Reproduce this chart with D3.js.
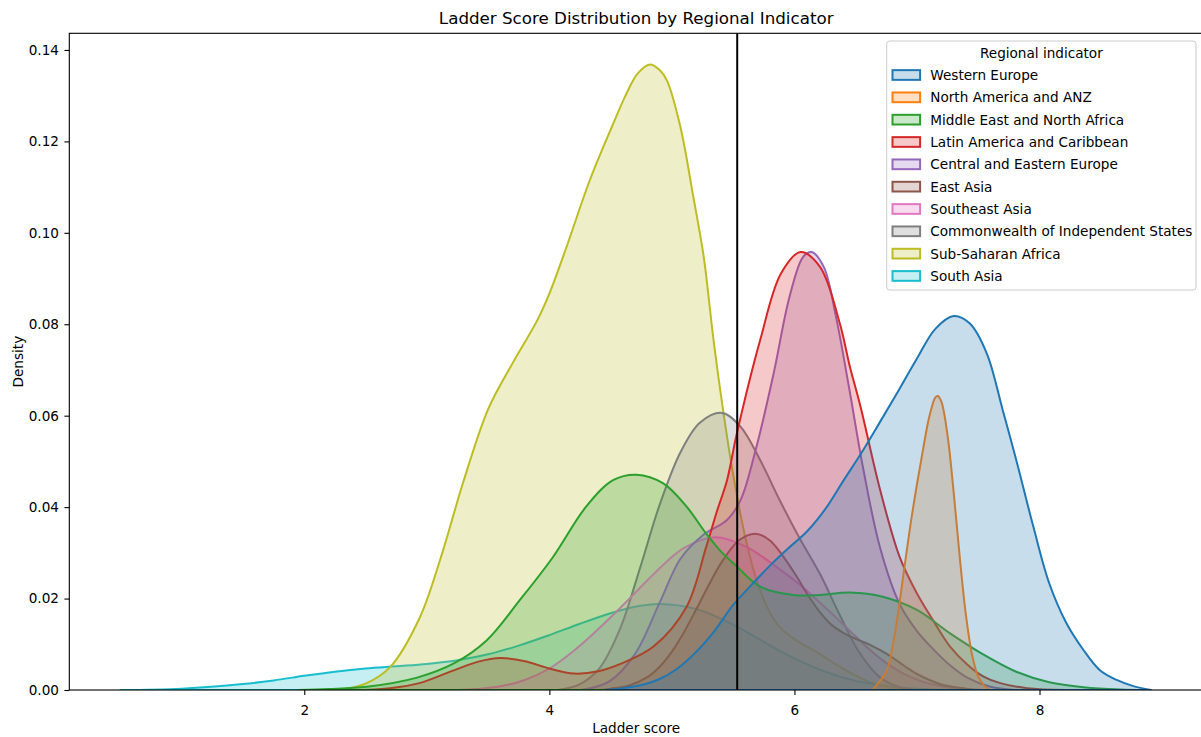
<!DOCTYPE html>
<html>
<head>
<meta charset="utf-8">
<script src="https://cdn.jsdelivr.net/npm/d3@7"></script>
<style>
  body { margin: 0; background: #ffffff; }
  svg text { font-family: "DejaVu Sans", sans-serif; fill: #000; }
</style>
</head>
<body>
<svg id="chart" width="1201" height="737"></svg>
<script>
// Region names, in legend order
const regions = [
  "Western Europe",
  "North America and ANZ",
  "Middle East and North Africa",
  "Latin America and Caribbean",
  "Central and Eastern Europe",
  "East Asia",
  "Southeast Asia",
  "Commonwealth of Independent States",
  "Sub-Saharan Africa",
  "South Asia"
];

// Density curves per region: [ladder score, density]
const westernEurope = [[4.46,0],[4.6,0.0004],[4.77,0.0012],[4.9,0.0024],[5.04,0.0046],[5.2,0.0084],[5.35,0.013],[5.5,0.0186],[5.65,0.023],[5.8,0.0272],[5.95,0.031],[6.1,0.0346],[6.25,0.0395],[6.4,0.0458],[6.55,0.052],[6.7,0.0587],[6.85,0.0655],[7.0,0.0725],[7.15,0.079],[7.3,0.0818],[7.43,0.0802],[7.57,0.0736],[7.7,0.0612],[7.81,0.0503],[7.95,0.0357],[8.08,0.0233],[8.22,0.0146],[8.36,0.0087],[8.49,0.0044],[8.63,0.0022],[8.76,0.0009],[8.91,0]];
const northAmericaAnz = [[6.637,0],[6.65,0.0004],[6.75,0.0041],[6.8,0.0094],[6.85,0.0176],[6.9,0.0273],[6.95,0.0367],[7.0,0.045],[7.05,0.0527],[7.1,0.0597],[7.15,0.064],[7.17,0.0643],[7.2,0.063],[7.25,0.0556],[7.3,0.0431],[7.35,0.0288],[7.4,0.0163],[7.45,0.0076],[7.5,0.0029],[7.55,0.0009],[7.59,0]];
const middleEastNorthAfrica = [[1.96,0],[2.2,0.0002],[2.51,0.0007],[2.92,0.0027],[3.22,0.0058],[3.49,0.0109],[3.76,0.0197],[4.03,0.0291],[4.3,0.0401],[4.52,0.0459],[4.71,0.0471],[4.93,0.0452],[5.12,0.0401],[5.28,0.0342],[5.39,0.0306],[5.53,0.027],[5.72,0.0226],[5.99,0.0208],[6.21,0.0208],[6.45,0.0213],[6.72,0.0204],[7.0,0.0175],[7.27,0.0124],[7.54,0.0078],[7.81,0.004],[8.08,0.0017],[8.36,0.0006],[8.66,0.0001],[8.86,0]];
const latinAmericaCaribbean = [[2.47,0],[2.7,0.0004],[2.94,0.0015],[3.22,0.0043],[3.42,0.0062],[3.6,0.007],[3.8,0.0063],[4.0,0.0047],[4.2,0.0036],[4.4,0.0041],[4.58,0.0057],[4.85,0.0095],[5.12,0.0182],[5.28,0.0313],[5.37,0.0393],[5.45,0.0459],[5.53,0.0561],[5.72,0.0765],[5.89,0.0911],[6.05,0.0958],[6.21,0.0925],[6.37,0.0802],[6.45,0.071],[6.54,0.0619],[6.7,0.0437],[6.86,0.029],[7.0,0.0211],[7.13,0.0153],[7.27,0.0095],[7.41,0.0056],[7.54,0.003],[7.68,0.0015],[7.9,0.0004],[8.21,0]];
const centralEasternEurope = [[4.26,0],[4.49,0.0019],[4.7,0.0079],[4.9,0.0191],[5.07,0.0287],[5.26,0.034],[5.45,0.0372],[5.56,0.0415],[5.69,0.0532],[5.83,0.0692],[5.96,0.086],[6.07,0.0947],[6.14,0.0958],[6.24,0.0925],[6.34,0.0815],[6.45,0.0655],[6.56,0.0486],[6.7,0.031],[6.86,0.0187],[7.0,0.0129],[7.13,0.009],[7.27,0.0054],[7.41,0.0027],[7.6,0.0007],[7.8,0]];
const eastAsia = [[4.42,0],[4.5,0.0003],[4.65,0.001],[4.8,0.0028],[4.9,0.0051],[5.0,0.0084],[5.1,0.0127],[5.2,0.0177],[5.3,0.0229],[5.4,0.0277],[5.55,0.0328],[5.68,0.0342],[5.8,0.0327],[6.0,0.0256],[6.1,0.0212],[6.2,0.0173],[6.3,0.0143],[6.4,0.0125],[6.5,0.0112],[6.6,0.0101],[6.7,0.0087],[6.8,0.0071],[6.9,0.0052],[7.0,0.0035],[7.2,0.0012],[7.4,0.0003],[7.51,0]];
const southeastAsia = [[3.26,0],[3.4,0.0002],[3.6,0.0008],[3.8,0.0022],[4.0,0.0047],[4.2,0.0086],[4.35,0.0121],[4.5,0.0159],[4.65,0.0199],[4.8,0.024],[4.95,0.0279],[5.1,0.0311],[5.35,0.0334],[5.6,0.0314],[5.9,0.026],[6.05,0.0229],[6.2,0.0193],[6.35,0.0156],[6.5,0.0117],[6.65,0.008],[6.8,0.005],[6.95,0.0028],[7.1,0.0014],[7.3,0.0004],[7.55,0]];
const commonwealthIndependentStates = [[4.07,0],[4.25,0.0013],[4.41,0.0048],[4.58,0.0136],[4.74,0.0267],[4.9,0.0405],[5.07,0.052],[5.23,0.0585],[5.41,0.0606],[5.56,0.0576],[5.72,0.0503],[5.88,0.0415],[6.04,0.0333],[6.21,0.0253],[6.37,0.0164],[6.53,0.0082],[6.7,0.0027],[6.85,0.0007],[6.98,0]];
const subSaharanAfrica = [[2.27,0],[2.5,0.0014],[2.7,0.005],[2.94,0.0157],[3.11,0.0286],[3.3,0.0457],[3.5,0.0614],[3.7,0.0715],[3.9,0.0808],[4.0,0.0867],[4.14,0.0969],[4.33,0.1115],[4.52,0.1238],[4.63,0.1305],[4.72,0.1348],[4.82,0.1368],[4.9,0.1356],[4.96,0.1333],[5.07,0.1231],[5.17,0.1086],[5.26,0.0947],[5.34,0.0765],[5.42,0.0608],[5.5,0.0471],[5.6,0.0333],[5.7,0.0233],[5.8,0.0169],[5.9,0.0132],[6.05,0.0103],[6.2,0.008],[6.4,0.0046],[6.6,0.0019],[6.8,0.0005],[6.93,0]];
const southAsia = [[0.5,0],[1.0,0.0003],[1.5,0.0013],[1.75,0.0021],[2.0,0.0031],[2.25,0.004],[2.5,0.0047],[2.75,0.0052],[3.0,0.0057],[3.25,0.0065],[3.5,0.0078],[3.75,0.0097],[4.0,0.012],[4.25,0.0145],[4.5,0.0168],[4.7,0.0182],[4.9,0.0188],[5.2,0.0177],[5.5,0.0143],[5.75,0.0105],[6.0,0.0069],[6.25,0.004],[6.5,0.002],[6.75,0.0009],[7.0,0.0003],[7.29,0]];

const curves = [westernEurope, northAmericaAnz, middleEastNorthAfrica, latinAmericaCaribbean,
  centralEasternEurope, eastAsia, southeastAsia, commonwealthIndependentStates, subSaharanAfrica, southAsia];

// Mean ladder score across all countries (vertical reference line)
const meanScore = 5.533;

// Axis ticks
const xTicks = [2, 4, 6, 8];
const yTicks = [0.00, 0.02, 0.04, 0.06, 0.08, 0.10, 0.12, 0.14];

// Styling
const palette = ["#1f77b4","#ff7f0e","#2ca02c","#d62728","#9467bd","#8c564b","#e377c2","#7f7f7f","#bcbd22","#17becf"];
const fillAlpha = 0.25;
const fontSize = 13.6;

const svg = d3.select("#chart");
const plot = { left: 69.3, right: 1203.1, top: 33.3, bottom: 690 };

const x = d3.scaleLinear().domain([0.0824, 9.335]).range([plot.left, plot.right]);
const y = d3.scaleLinear().domain([0, 0.14364]).range([plot.bottom, plot.top]);

svg.append("defs").append("clipPath").attr("id", "plotClip")
  .append("rect")
  .attr("x", plot.left).attr("y", plot.top)
  .attr("width", plot.right - plot.left).attr("height", plot.bottom - plot.top);

const area = d3.area()
  .x(d => x(d[0]))
  .y0(y(0))
  .y1(d => y(d[1]))
  .curve(d3.curveCatmullRom.alpha(0.5));

// Filled densities: last region drawn first so Western Europe ends up on top
const layers = svg.append("g").attr("clip-path", "url(#plotClip)");
for (let i = regions.length - 1; i >= 0; i--) {
  const g = layers.append("g");
  g.append("path")
    .datum(curves[i])
    .attr("d", area)
    .attr("fill", palette[i])
    .attr("fill-opacity", fillAlpha)
    .attr("stroke", "none");
  g.append("path")
    .datum(curves[i])
    .attr("d", area)
    .attr("fill", "none")
    .attr("stroke", palette[i])
    .attr("stroke-width", 2)
    .attr("stroke-linejoin", "round");
}

// Mean line
layers.append("line")
  .attr("x1", x(meanScore)).attr("x2", x(meanScore))
  .attr("y1", plot.top).attr("y2", plot.bottom)
  .attr("stroke", "#000").attr("stroke-width", 2);

// Frame
svg.append("rect")
  .attr("x", plot.left).attr("y", plot.top)
  .attr("width", plot.right - plot.left).attr("height", plot.bottom - plot.top)
  .attr("fill", "none").attr("stroke", "#000").attr("stroke-width", 1.1);

// Axes
const xAxis = svg.append("g")
  .attr("transform", `translate(0,${plot.bottom})`)
  .call(d3.axisBottom(x).tickValues(xTicks).tickSize(4.9).tickPadding(10.6).tickFormat(d3.format("d")));
const yAxis = svg.append("g")
  .attr("transform", `translate(${plot.left},0)`)
  .call(d3.axisLeft(y).tickValues(yTicks).tickSize(4.9).tickPadding(5.4).tickFormat(d3.format(".2f")));

[xAxis, yAxis].forEach(a => {
  a.select(".domain").remove();
  a.selectAll(".tick line").attr("stroke", "#000").attr("stroke-width", 1.1);
  a.selectAll(".tick text").attr("font-size", fontSize).attr("font-family", "DejaVu Sans").attr("fill", "#000");
});
xAxis.selectAll(".tick text").attr("dy", null).attr("y", 25.4);

// Titles
const midX = (plot.left + plot.right) / 2;
svg.append("text")
  .attr("x", midX).attr("y", 23.5)
  .attr("text-anchor", "middle")
  .attr("font-size", 16.7)
  .text("Ladder Score Distribution by Regional Indicator");

svg.append("text")
  .attr("x", midX).attr("y", 733)
  .attr("text-anchor", "middle")
  .attr("font-size", fontSize)
  .text("Ladder score");

svg.append("text")
  .attr("transform", `translate(22.5,${(plot.top + plot.bottom) / 2}) rotate(-90)`)
  .attr("text-anchor", "middle")
  .attr("font-size", fontSize)
  .text("Density");

// Legend
const legend = svg.append("g");
legend.append("rect")
  .attr("x", 886.7).attr("y", 41)
  .attr("width", 309.3).attr("height", 249)
  .attr("rx", 3).attr("ry", 3)
  .attr("fill", "#fff").attr("fill-opacity", 0.8)
  .attr("stroke", "#cccccc").attr("stroke-width", 1);

legend.append("text")
  .attr("x", 886.7 + 309.3 / 2).attr("y", 58.2)
  .attr("text-anchor", "middle")
  .attr("font-size", fontSize)
  .text("Regional indicator");

const rowStep = 22.33;
regions.forEach((name, i) => {
  const cy = 75 + i * rowStep;
  const row = legend.append("g");
  row.append("rect")
    .attr("x", 892.5).attr("y", cy - 4.85)
    .attr("width", 27.6).attr("height", 9.7)
    .attr("fill", palette[i]).attr("fill-opacity", fillAlpha)
    .attr("stroke", palette[i]).attr("stroke-width", 2);
  row.append("text")
    .attr("x", 930.3).attr("y", cy + 5)
    .attr("font-size", fontSize)
    .text(name);
});
</script>
</body>
</html>
